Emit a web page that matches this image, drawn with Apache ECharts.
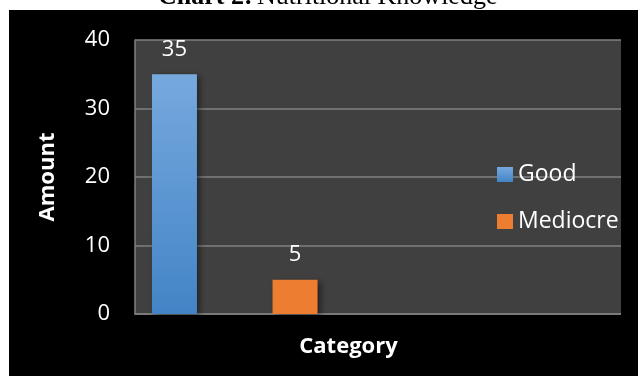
<!DOCTYPE html>
<html>
<head>
<meta charset="utf-8">
<script src="https://cdn.jsdelivr.net/npm/echarts@6/dist/echarts.min.js"></script>
<style>
  html, body { margin: 0; padding: 0; background: #ffffff; }
  #chart { width: 638px; height: 376px; }
</style>
</head>
<body>
<div id="chart"></div>
<script>
// Nutritional knowledge counts per rating
const seriesNames = ['Good', 'Mediocre'];
const goodValues = [35];
const mediocreValues = [5];
const categoryNames = ['Category'];
const yTicks = [0, 10, 20, 30, 40];

const FONT = '"Open Sans", "DejaVu Sans", sans-serif';
const SERIF = '"Liberation Serif", "DejaVu Serif", serif';
const GRID_LINE = '#808080';

const chart = echarts.init(document.getElementById('chart'), null, { renderer: 'canvas' });

chart.setOption({
  backgroundColor: 'transparent',
  animation: false,
  graphic: [
    // dark chart panel
    { type: 'rect', z: -100, shape: { x: 9, y: 10, width: 629, height: 366 }, style: { fill: '#000000' } },
    // right margin of the panel (legend text is clipped here)
    { type: 'rect', z: 100, shape: { x: 621, y: 10, width: 17, height: 366 }, style: { fill: '#000000' } },
    // caption above the panel
    {
      type: 'text', z: -150, x: 158, y: -3,
      style: {
        text: 'Chart 2:',
        font: 'bold 26px ' + SERIF,
        fill: '#000000',
        textAlign: 'left',
        textVerticalAlign: 'middle'
      }
    },
    {
      type: 'text', z: -150, x: 257, y: -3,
      style: {
        text: 'Nutritional Knowledge',
        font: '26px ' + SERIF,
        fill: '#000000',
        textAlign: 'left',
        textVerticalAlign: 'middle'
      }
    },
    {
      type: 'text', z: 50, x: 348.5, y: 347,
      style: {
        text: 'Category',
        font: 'bold 22px ' + FONT,
        fill: '#ffffff',
        textAlign: 'center',
        textVerticalAlign: 'middle'
      }
    }
  ],
  legend: {
    orient: 'vertical',
    left: 492,
    top: 158,
    icon: 'rect',
    itemWidth: 16,
    itemHeight: 15,
    itemGap: 24,
    data: seriesNames,
    textStyle: { color: '#ffffff', fontSize: 23, fontFamily: FONT }
  },
  grid: [
    { left: 135, right: 17, top: 40, bottom: 62, show: true, backgroundColor: '#404040', borderWidth: 0 },
    { left: 135, width: 199.5, top: 40, bottom: 62 }
  ],
  xAxis: [
    {
      gridIndex: 0, type: 'category', data: [''],
      axisLine: { show: true, lineStyle: { color: GRID_LINE, width: 1.5 } },
      axisTick: { show: false }, axisLabel: { show: false }
    },
    { gridIndex: 1, type: 'category', data: categoryNames, show: false }
  ],
  yAxis: [
    {
      gridIndex: 0, type: 'value', min: yTicks[0], max: yTicks[yTicks.length - 1], interval: 10,
      axisLine: { show: true, lineStyle: { color: GRID_LINE, width: 1.5 } },
      axisTick: { show: false },
      splitLine: { show: true, lineStyle: { color: GRID_LINE, width: 1.5 } },
      axisLabel: { color: '#ffffff', fontSize: 22, fontFamily: FONT, margin: 25 },
      name: 'Amount', nameLocation: 'middle', nameRotate: 90, nameGap: 76,
      nameTextStyle: { color: '#ffffff', fontSize: 22, fontWeight: 'bold', fontFamily: FONT }
    },
    {
      gridIndex: 1, type: 'value', min: yTicks[0], max: yTicks[yTicks.length - 1], show: false,
      splitLine: { show: false }
    }
  ],
  series: [
    {
      name: seriesNames[0], type: 'bar', xAxisIndex: 1, yAxisIndex: 1,
      data: goodValues, barWidth: 45, barGap: '168%',
      itemStyle: {
        color: new echarts.graphic.LinearGradient(0, 0, 0, 1, [
          { offset: 0, color: '#76a9de' },
          { offset: 1, color: '#4384c6' }
        ]),
        shadowColor: 'rgba(0,0,0,0.45)', shadowBlur: 6, shadowOffsetX: 3, shadowOffsetY: 2
      },
      label: { show: true, position: 'top', distance: 14, color: '#ffffff', fontSize: 22, fontFamily: FONT }
    },
    {
      name: seriesNames[1], type: 'bar', xAxisIndex: 1, yAxisIndex: 1,
      data: mediocreValues, barWidth: 45, barGap: '168%',
      itemStyle: {
        color: '#ed7d31',
        shadowColor: 'rgba(0,0,0,0.45)', shadowBlur: 6, shadowOffsetX: 3, shadowOffsetY: 2
      },
      label: { show: true, position: 'top', distance: 14, color: '#ffffff', fontSize: 22, fontFamily: FONT }
    }
  ]
});
</script>
</body>
</html>
